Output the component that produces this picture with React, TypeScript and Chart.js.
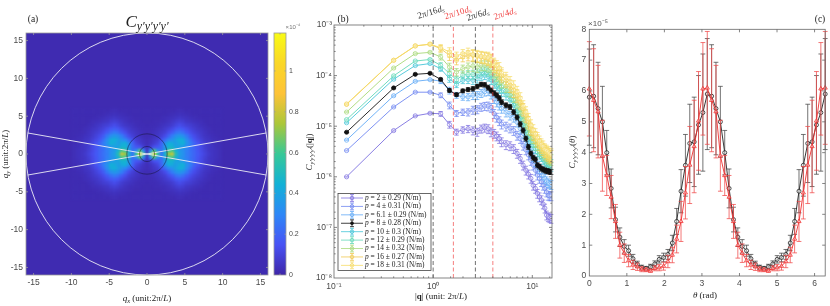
import React, { useEffect, useRef } from "react";
import { Chart, registerables } from "chart.js";

Chart.register(...registerables);

// ---------- panel (a) heat map, one quadrant (mirrored), values in 1e-4
const heatQx = [0, 0.5, 1, 1.5, 2, 2.5, 3, 3.5, 4, 4.5, 5, 5.5, 6, 6.5, 7, 7.5, 8, 8.5, 9, 9.5, 10];
const heatQy = [0, 0.5, 1, 1.5, 2, 2.5, 3, 3.5, 4, 4.5, 5, 5.5, 6];
const heatRow0 = [0.06, 0.62, 1.18, 0.6, 0.26, 0.46, 0.74, 0.8, 0.52, 0.38, 0.34, 0.27, 0.24, 0.2, 0.17, 0.13, 0.1, 0.07, 0.05, 0.04, 0.03];
const heatRow1 = [0.04, 0.3, 0.62, 0.34, 0.24, 0.4, 0.6, 0.62, 0.46, 0.36, 0.33, 0.28, 0.23, 0.2, 0.16, 0.12, 0.09, 0.06, 0.05, 0.04, 0.03];
const heatRow2 = [0.04, 0.08, 0.14, 0.16, 0.22, 0.36, 0.46, 0.46, 0.4, 0.38, 0.36, 0.3, 0.25, 0.2, 0.16, 0.12, 0.08, 0.06, 0.05, 0.035, 0.03];
const heatRow3 = [0.03, 0.05, 0.08, 0.11, 0.2, 0.34, 0.44, 0.42, 0.38, 0.42, 0.44, 0.34, 0.27, 0.2, 0.15, 0.11, 0.08, 0.06, 0.04, 0.03, 0.025];
const heatRow4 = [0.03, 0.04, 0.06, 0.08, 0.14, 0.22, 0.3, 0.34, 0.4, 0.44, 0.42, 0.32, 0.23, 0.16, 0.12, 0.09, 0.06, 0.05, 0.035, 0.03, 0.025];
const heatRow5 = [0.025, 0.03, 0.045, 0.06, 0.09, 0.13, 0.2, 0.28, 0.34, 0.36, 0.33, 0.26, 0.18, 0.13, 0.1, 0.07, 0.05, 0.04, 0.03, 0.025, 0.02];
const heatRow6 = [0.025, 0.03, 0.04, 0.05, 0.07, 0.09, 0.13, 0.18, 0.24, 0.26, 0.23, 0.18, 0.13, 0.1, 0.08, 0.06, 0.045, 0.03, 0.025, 0.02, 0.02];
const heatRow7 = [0.025, 0.025, 0.03, 0.04, 0.05, 0.07, 0.09, 0.12, 0.16, 0.18, 0.16, 0.13, 0.1, 0.08, 0.06, 0.05, 0.035, 0.03, 0.02, 0.02, 0.02];
const heatRow8 = [0.02, 0.025, 0.025, 0.03, 0.04, 0.05, 0.06, 0.08, 0.11, 0.13, 0.11, 0.09, 0.08, 0.06, 0.05, 0.035, 0.03, 0.02, 0.02, 0.02, 0.02];
const heatRow9 = [0.02, 0.02, 0.025, 0.025, 0.03, 0.035, 0.045, 0.06, 0.08, 0.09, 0.08, 0.06, 0.05, 0.04, 0.035, 0.03, 0.02, 0.02, 0.02, 0.02, 0.02];
const heatRow10 = [0.02, 0.02, 0.02, 0.02, 0.025, 0.03, 0.035, 0.04, 0.05, 0.06, 0.05, 0.045, 0.035, 0.03, 0.025, 0.02, 0.02, 0.02, 0.02, 0.02, 0.02];
const heatRow11 = [0.02, 0.02, 0.02, 0.02, 0.02, 0.02, 0.025, 0.03, 0.035, 0.04, 0.035, 0.03, 0.025, 0.02, 0.02, 0.02, 0.02, 0.02, 0.02, 0.02, 0.02];
const heatRow12 = [0.02, 0.02, 0.02, 0.02, 0.02, 0.02, 0.02, 0.02, 0.025, 0.03, 0.025, 0.02, 0.02, 0.02, 0.02, 0.02, 0.02, 0.02, 0.02, 0.02, 0.02];
const heatRows = [heatRow0, heatRow1, heatRow2, heatRow3, heatRow4, heatRow5, heatRow6, heatRow7, heatRow8, heatRow9, heatRow10, heatRow11, heatRow12];
const heatBackground = 0.018;
const heatMax = 1.186;
const ringRadii = [16, 2.667, 1];
const wedgeA = [{ x: -15.76, y: 2.78 }, { x: 15.76, y: -2.78 }];
const wedgeB = [{ x: -15.76, y: -2.78 }, { x: 15.76, y: 2.78 }];
const axisTicksA = [-15, -10, -5, 0, 5, 10, 15];
const colorbarTicks = [0, 0.2, 0.4, 0.6, 0.8, 1];

// parula stops
const parula = [
  [62, 38, 168], [72, 82, 244], [46, 135, 247], [18, 177, 214],
  [55, 200, 151], [171, 199, 57], [254, 195, 56], [250, 215, 40], [249, 251, 21],
];

// ---------- panel (b), values in units of 1e-6
const qValues = [0.134, 0.40, 0.66, 0.93, 1.19, 1.46, 1.72, 1.99, 2.25, 2.52, 2.78, 3.05, 3.31, 3.58, 3.84, 4.11, 4.37, 4.64, 4.90, 5.43, 5.96, 6.49, 7.02, 7.55, 8.08, 8.61, 9.14, 9.67, 10.2, 10.73, 11.26, 11.79, 12.32, 12.85, 13.38, 13.91, 14.44, 14.97, 15.5];
const p2 = [1.0, 8.2, 16, 18, 17.6, 10.8, 7.7, 8.5, 8.9, 8.2, 7.7, 8.9, 9.3, 8.9, 7.7, 7.2, 6.4, 5.7, 4.9, 4.3, 4.1, 3.6, 2.9, 2.3, 1.7, 1.35, 1.13, 0.93, 0.68, 0.59, 0.47, 0.4, 0.35, 0.29, 0.24, 0.175, 0.162, 0.155, 0.15];
const p4 = [3.3, 24, 47, 47, 41, 26, 18, 19, 19, 21, 21.5, 24, 25, 25, 23.5, 17.8, 15, 12.8, 11, 10, 9.2, 8.2, 6.6, 5.7, 4.2, 3.4, 2.7, 2.1, 1.7, 1.35, 1.08, 0.93, 0.8, 0.68, 0.59, 0.5, 0.43, 0.42, 0.42];
const p6 = [5.3, 40, 77, 83, 78, 51, 41, 38, 38, 41, 41, 45, 48, 50, 43, 35, 30, 26, 22.5, 19, 16.5, 15, 12, 9, 7.2, 5.3, 3.9, 3.1, 2.5, 2, 1.7, 1.46, 1.25, 1.08, 0.93, 0.83, 0.76, 0.72, 0.7];
const p8 = [7.6, 57, 106, 111, 84, 51, 42, 50, 53, 55, 61, 67, 66, 58, 51, 45, 41, 36, 30, 26, 24, 19, 15, 11, 8.3, 5.7, 3.9, 2.9, 2.4, 2.2, 1.7, 1.6, 1.46, 1.4, 1.35, 1.3, 1.3, 1.25, 1.25];
const p10 = [11.7, 85, 158, 173, 137, 87, 67, 81, 83, 81, 87, 97, 102, 97, 83, 70, 62, 55, 48, 41, 33, 26, 19, 14.2, 10.5, 7.7, 6.2, 4.9, 4.2, 3.6, 3.1, 2.8, 2.5, 2.2, 2.0, 1.8, 1.7, 1.65, 1.6];
const p12 = [13.5, 99, 194, 208, 160, 110, 83, 102, 106, 106, 113, 124, 131, 124, 106, 87, 77, 70, 60, 50, 41, 33, 24, 18, 13.1, 9.7, 7.2, 5.7, 4.9, 4.2, 3.6, 3.2, 2.9, 2.6, 2.3, 2.1, 2, 1.9, 1.8];
const p14 = [19, 141, 272, 288, 234, 148, 118, 137, 148, 155, 148, 160, 160, 155, 137, 118, 102, 87, 75, 61, 50, 39, 30, 22, 16.5, 12.2, 9, 7.2, 6, 5.1, 4.4, 3.9, 3.5, 3.1, 2.8, 2.6, 2.4, 2.3, 2.2];
const p16 = [27, 201, 386, 416, 341, 252, 201, 234, 252, 252, 241, 234, 227, 217, 201, 160, 137, 118, 102, 81, 64, 51, 41, 30, 22, 16.5, 12.2, 9, 7.2, 6.2, 5.3, 4.5, 4, 3.6, 3.3, 3, 2.8, 2.6, 2.6];
const p18 = [27.5, 201, 386, 420, 355, 293, 245, 272, 285, 262, 252, 241, 234, 227, 208, 173, 155, 142, 112, 91, 75, 62, 48, 36, 25, 19, 14, 10.5, 8.4, 7, 5.9, 5, 4.4, 4, 3.5, 3.3, 3.1, 2.9, 2.8];
const errFraction = [0.02, 0.03, 0.03, 0.04, 0.12, 0.17, 0.15, 0.16, 0.18, 0.2, 0.2, 0.2, 0.2, 0.22, 0.22, 0.22, 0.22, 0.22, 0.22, 0.22, 0.22, 0.22, 0.22, 0.22, 0.22, 0.22, 0.22, 0.22, 0.22, 0.22, 0.22, 0.22, 0.22, 0.22, 0.22, 0.22, 0.22, 0.22, 0.22];
const seriesB = [p2, p4, p6, p8, p10, p12, p14, p16, p18];
const errScale = [0.9, 0.9, 0.9, 0.5, 0.9, 1, 1.1, 1.25, 1.25];
const seriesLabels = ["p = 2 ± 0.29 (N/m)", "p = 4 ± 0.31 (N/m)", "p = 6.1 ± 0.29 (N/m)", "p = 8 ± 0.28 (N/m)", "p = 10 ± 0.3 (N/m)", "p = 12 ± 0.29 (N/m)", "p = 14 ± 0.32 (N/m)", "p = 16 ± 0.27 (N/m)", "p = 18 ± 0.31 (N/m)"];
const seriesColors = ["#7d70e0", "#6f86f0", "#62aaf6", "#111111", "#45c5d8", "#62d8b8", "#a8d878", "#f0c850", "#f6dc68"];
const dashQ = [1, 1.6, 2.667, 4];
const dashColors = ["#333333", "#f04848", "#333333", "#f04848"];
const dashLabels = ["16", "10", "6", "4"];

// ---------- panel (c), values in units of 1e-5
const thetaValues = [0, 0.116, 0.233, 0.349, 0.465, 0.582, 0.698, 0.814, 0.931, 1.047, 1.164, 1.28, 1.396, 1.513, 1.629, 1.745, 1.862, 1.978, 2.094, 2.211, 2.327, 2.443, 2.56, 2.676, 2.793, 2.909, 3.025, 3.142, 3.258, 3.374, 3.491, 3.607, 3.723, 3.84, 3.956, 4.072, 4.189, 4.305, 4.421, 4.538, 4.654, 4.77, 4.887, 5.003, 5.119, 5.236, 5.352, 5.469, 5.585, 5.701, 5.818, 5.934, 6.05, 6.167, 6.283];
const blackVals = [5.8, 5.83, 5.43, 5.0, 4.0, 2.84, 1.83, 1.26, 0.96, 0.82, 0.56, 0.38, 0.28, 0.25, 0.3, 0.39, 0.54, 0.6, 0.7, 1.07, 1.77, 2.75, 3.59, 4.3, 4.35, 4.9, 5.3, 5.9, 5.83, 5.43, 5.0, 4.0, 2.84, 1.83, 1.26, 0.96, 0.82, 0.56, 0.38, 0.28, 0.25, 0.3, 0.39, 0.54, 0.6, 0.7, 1.07, 1.77, 2.75, 3.59, 4.3, 4.35, 4.9, 5.3, 5.9];
const blackErr = [1.56, 1.67, 1.5, 1.15, 0.72, 0.63, 0.4, 0.3, 0.22, 0.18, 0.14, 0.1, 0.07, 0.06, 0.08, 0.1, 0.12, 0.14, 0.16, 0.25, 0.42, 0.7, 1.0, 1.27, 1.45, 1.6, 1.9, 1.8, 1.67, 1.5, 1.15, 0.72, 0.63, 0.4, 0.3, 0.22, 0.18, 0.14, 0.1, 0.07, 0.06, 0.08, 0.1, 0.12, 0.14, 0.16, 0.25, 0.42, 0.7, 1.0, 1.27, 1.45, 1.6, 1.9, 1.8];
const redVals = [6.07, 5.7, 5.33, 3.9, 3.26, 2.56, 1.77, 1.0, 0.74, 0.5, 0.36, 0.3, 0.22, 0.2, 0.17, 0.25, 0.27, 0.32, 0.47, 0.68, 1.2, 1.77, 2.7, 3.6, 4.2, 5.03, 6.07, 6.1, 5.7, 5.33, 3.9, 3.26, 2.56, 1.77, 1.0, 0.74, 0.5, 0.36, 0.3, 0.22, 0.2, 0.17, 0.25, 0.27, 0.32, 0.47, 0.68, 1.2, 1.77, 2.7, 3.6, 4.2, 5.03, 6.07, 6.1];
const redErr = [1.53, 1.67, 1.5, 1.15, 0.65, 0.7, 0.55, 0.42, 0.3, 0.2, 0.15, 0.12, 0.08, 0.06, 0.05, 0.08, 0.1, 0.13, 0.2, 0.25, 0.45, 0.65, 0.85, 1.25, 1.5, 1.6, 1.5, 1.83, 1.67, 1.5, 1.15, 0.65, 0.7, 0.55, 0.42, 0.3, 0.2, 0.15, 0.12, 0.08, 0.06, 0.05, 0.08, 0.1, 0.13, 0.2, 0.25, 0.45, 0.65, 0.85, 1.25, 1.5, 1.6, 1.5, 1.83];
const axisTicksCx = [0, 1, 2, 3, 4, 5, 6];
const axisTicksCy = [0, 1, 2, 3, 4, 5, 6, 7, 8];

// ---------- helpers
const SERIF = '"Liberation Serif"';
const SANS = '"Liberation Sans"';
const TICK = "#4a4a4a";

function parulaAt(v: number) {
  const t = Math.max(0, Math.min(1, v / heatMax)) * (parula.length - 1);
  const i = Math.min(parula.length - 2, Math.floor(t));
  const f = t - i;
  const c = parula[i].map((a, k) => Math.round(a + (parula[i + 1][k] - a) * f));
  return `rgb(${c[0]},${c[1]},${c[2]})`;
}

type Run = { t: string; i?: boolean; b?: boolean; s?: number; dy?: number; f?: string };
type Txt = { x: number; y: number; runs: Run[]; rot?: number; color?: string; align?: string };

function drawRich(ctx: any, tx: Txt) {
  ctx.save();
  ctx.translate(tx.x, tx.y);
  if (tx.rot) ctx.rotate(tx.rot);
  ctx.textBaseline = "middle";
  ctx.textAlign = "left";
  ctx.fillStyle = tx.color || "#222";
  const fontOf = (r: Run) => `${r.i ? "italic " : ""}${r.b ? "bold " : ""}${r.s || 8}px ${r.f || SERIF}`;
  let w = 0;
  for (const r of tx.runs) {
    ctx.font = fontOf(r);
    w += ctx.measureText(r.t).width;
  }
  let x = tx.align === "left" ? 0 : -w / 2;
  for (const r of tx.runs) {
    ctx.font = fontOf(r);
    ctx.fillText(r.t, x, r.dy || 0);
    x += ctx.measureText(r.t).width;
  }
  ctx.restore();
}

const textPlugin = (canvasLeft: number, list: Txt[]) => ({
  id: "richTexts",
  afterDraw(chart: any) {
    const ctx = chart.ctx;
    ctx.save();
    ctx.translate(-canvasLeft, 0);
    list.forEach((t) => drawRich(ctx, t));
    ctx.restore();
  },
});

const isPow10 = (v: number) => Math.abs(Math.log10(v) - Math.round(Math.log10(v))) < 1e-6;

const framePlugin = (color: string, majorLen: number, logAxes: boolean) => ({
  id: "frame",
  afterDatasetsDraw(chart: any) {
    const { ctx, chartArea: a, scales } = chart;
    ctx.save();
    ctx.strokeStyle = color;
    ctx.lineWidth = 0.8;
    ctx.strokeRect(a.left, a.top, a.right - a.left, a.bottom - a.top);
    ctx.beginPath();
    for (const t of scales.x.ticks) {
      const p = scales.x.getPixelForValue(t.value);
      if (p <= a.left + 0.5 || p >= a.right - 0.5) continue;
      const l = logAxes && !isPow10(t.value) ? majorLen * 0.55 : majorLen;
      ctx.moveTo(p, a.bottom); ctx.lineTo(p, a.bottom - l);
      ctx.moveTo(p, a.top); ctx.lineTo(p, a.top + l);
    }
    for (const t of scales.y.ticks) {
      const p = scales.y.getPixelForValue(t.value);
      if (p <= a.top + 0.5 || p >= a.bottom - 0.5) continue;
      const l = logAxes && !isPow10(t.value) ? majorLen * 0.55 : majorLen;
      ctx.moveTo(a.left, p); ctx.lineTo(a.left + l, p);
      ctx.moveTo(a.right, p); ctx.lineTo(a.right - l, p);
    }
    ctx.stroke();
    ctx.restore();
  },
});

const errorPlugin = (cap: number) => ({
  id: "errorBars",
  beforeDatasetDraw(chart: any, args: any) {
    const ds = chart.data.datasets[args.index];
    if (!ds.errs) return;
    const { ctx, scales } = chart;
    const pts = args.meta.data;
    ctx.save();
    ctx.strokeStyle = ds.errColor || ds.borderColor;
    ctx.lineWidth = 0.75;
    ctx.beginPath();
    ds.data.forEach((d: any, i: number) => {
      const e = ds.errs[i];
      if (!e) return;
      const x = pts[i].x;
      const y1 = scales.y.getPixelForValue(d.y + e);
      const y2 = scales.y.getPixelForValue(d.y - e);
      ctx.moveTo(x, y1); ctx.lineTo(x, y2);
      ctx.moveTo(x - cap, y1); ctx.lineTo(x + cap, y1);
      ctx.moveTo(x - cap, y2); ctx.lineTo(x + cap, y2);
    });
    ctx.stroke();
    ctx.restore();
  },
});

const ringPlugin = {
  id: "rings",
  afterDatasetsDraw(chart: any) {
    const { ctx, scales } = chart;
    const cx = scales.x.getPixelForValue(0);
    const cy = scales.y.getPixelForValue(0);
    ringRadii.forEach((r, i) => {
      const rp = scales.x.getPixelForValue(r) - cx;
      ctx.save();
      ctx.strokeStyle = i === 0 ? "rgba(235,235,245,0.9)" : "rgba(20,20,50,0.85)";
      ctx.lineWidth = i === 0 ? 1 : 0.6;
      ctx.beginPath();
      ctx.arc(cx, cy, rp, 0, Math.PI * 2);
      ctx.stroke();
      ctx.restore();
    });
  },
};

const legendPlugin = {
  id: "panelLegend",
  afterDraw(chart: any) {
    const ctx = chart.ctx;
    const L = 338 - 303, T = 193.5, W = 93, H = 77;
    ctx.save();
    ctx.fillStyle = "#fff";
    ctx.fillRect(L, T, W, H);
    ctx.strokeStyle = "#444";
    ctx.lineWidth = 0.8;
    ctx.strokeRect(L, T, W, H);
    seriesLabels.forEach((label, i) => {
      const y = T + 4.5 + i * 8.42;
      const c = seriesColors[i];
      ctx.strokeStyle = c;
      ctx.lineWidth = 0.8;
      ctx.beginPath();
      ctx.moveTo(L + 3, y); ctx.lineTo(L + 25, y);
      ctx.moveTo(L + 14, y - 3.4); ctx.lineTo(L + 14, y + 3.4);
      ctx.moveTo(L + 12, y - 3.4); ctx.lineTo(L + 16, y - 3.4);
      ctx.moveTo(L + 12, y + 3.4); ctx.lineTo(L + 16, y + 3.4);
      ctx.stroke();
      ctx.beginPath();
      ctx.arc(L + 14, y, 1.8, 0, Math.PI * 2);
      if (i === 3) { ctx.fillStyle = c; ctx.fill(); } else { ctx.stroke(); }
      drawRich(ctx, { x: L + 27, y, align: "left", color: "#222", runs: [{ t: "p", i: true, s: 7.4 }, { t: label.slice(1), s: 7.4 }] });
    });
    ctx.restore();
  },
};

const fixedY = (w: number) => (s: any) => { s.width = w; };
const fixedX = (h: number) => (s: any) => { s.height = h; };
const setTicks = (vals: number[]) => (s: any) => { s.ticks = vals.map((v) => ({ value: v })); };
const plainLabel = (v: any) => String(v);
const tickStyle = (padding: number) => ({ font: { family: SANS, size: 8.5 }, color: TICK, padding, autoSkip: false, maxRotation: 0, callback: plainLabel });
const noGrid = { display: false, drawTicks: false };
const noBorder = { display: false };

const superscripts: Record<string, string> = { "-": "⁻", "1": "¹", "2": "²", "3": "³", "4": "⁴", "5": "⁵", "6": "⁶", "7": "⁷", "8": "⁸", "0": "⁰" };
const powLabel = (v: any) => {
  if (!isPow10(Number(v))) return "";
  const e = String(Math.round(Math.log10(Number(v))));
  return "10" + e.split("").map((c) => superscripts[c]).join("");
};

const unitRuns = (sub: string): Run[] => [
  { t: "q", i: true, s: 9 },
  { t: sub, i: true, s: 6.5, dy: 2 },
  { t: " (unit:2π/", s: 9 },
  { t: "L", i: true, s: 9 },
  { t: ")", s: 9 },
];
const cRuns = (suffix: Run[]): Run[] => [
  { t: "C", i: true, s: 9 },
  { t: "y′y′y′y′", i: true, s: 6.2, dy: 2 },
  ...suffix,
];

export default function App() {
  const heatRef = useRef<HTMLCanvasElement>(null);
  const overlayRef = useRef<HTMLCanvasElement>(null);
  const barRef = useRef<HTMLCanvasElement>(null);
  const bRef = useRef<HTMLCanvasElement>(null);
  const cRef = useRef<HTMLCanvasElement>(null);

  useEffect(() => {
    const charts: Chart[] = [];

    // heat map cells
    const cells: any[] = [];
    const cellColors: string[] = [];
    heatQy.forEach((qy, r) => {
      heatQx.forEach((qx, c) => {
        const v = heatRows[r][c];
        const xs = qx === 0 ? [0] : [qx, -qx];
        const ys = qy === 0 ? [0] : [qy, -qy];
        xs.forEach((x) => ys.forEach((y) => {
          cells.push({ x, y });
          cellColors.push(parulaAt(v));
        }));
      });
    });
    charts.push(new Chart(heatRef.current as any, {
      type: "scatter",
      data: { datasets: [{ data: cells, pointStyle: "rect", pointRadius: 2.95, pointBorderWidth: 0, pointBackgroundColor: cellColors }] as any },
      options: {
        responsive: false, animation: false,
        plugins: { legend: { display: false }, tooltip: { enabled: false } },
        scales: { x: { display: false, min: -16, max: 16 }, y: { display: false, min: -16, max: 16 } },
      },
    } as any));

    // overlay with axes, rings and wedge
    charts.push(new Chart(overlayRef.current as any, {
      type: "scatter",
      data: {
        datasets: [wedgeA, wedgeB].map((w) => ({ data: w, showLine: true, pointRadius: 0, borderColor: "rgba(235,235,245,0.9)", borderWidth: 1 })),
      },
      options: {
        responsive: false, animation: false,
        layout: { padding: { top: 33, right: 4 } },
        plugins: { legend: { display: false }, tooltip: { enabled: false } },
        scales: {
          x: { min: -16, max: 16, afterBuildTicks: setTicks(axisTicksA), afterFit: fixedX(31), grid: noGrid, border: noBorder, ticks: tickStyle(3) },
          y: { min: -16, max: 16, afterBuildTicks: setTicks(axisTicksA), afterFit: fixedY(26), grid: noGrid, border: noBorder, ticks: tickStyle(3) },
        },
      },
      plugins: [ringPlugin, framePlugin("#9a9a9a", 2, false), textPlugin(0, [
        { x: 33, y: 19, runs: [{ t: "(a)", s: 9.5 }] },
        { x: 147, y: 23, runs: [{ t: "C", i: true, s: 17 }, { t: "y′y′y′y′", i: true, s: 12, dy: 3.5 }] },
        { x: 147, y: 299, runs: unitRuns("x") },
        { x: 6, y: 154, rot: -Math.PI / 2, runs: unitRuns("y") },
      ])],
    } as any));

    // colour bar
    charts.push(new Chart(barRef.current as any, {
      type: "bar",
      data: {
        labels: ["C"],
        datasets: [{
          data: [heatMax], barPercentage: 1, categoryPercentage: 1, borderWidth: 0,
          backgroundColor: (ctx: any) => {
            const a = ctx.chart.chartArea;
            if (!a) return parulaAt(0);
            const g = ctx.chart.ctx.createLinearGradient(0, a.bottom, 0, a.top);
            parula.forEach((c, i) => g.addColorStop(i / (parula.length - 1), `rgb(${c[0]},${c[1]},${c[2]})`));
            return g;
          },
        }],
      },
      options: {
        responsive: false, animation: false,
        layout: { padding: { left: 4, top: 33, bottom: 31 } },
        plugins: { legend: { display: false }, tooltip: { enabled: false } },
        scales: {
          x: { display: false },
          y: { position: "right", min: 0, max: heatMax, afterBuildTicks: setTicks(colorbarTicks), afterFit: fixedY(19), grid: noGrid, border: noBorder, ticks: { ...tickStyle(3), font: { family: SANS, size: 7 } } },
        },
      },
      plugins: [framePlugin("#9a9a9a", 1.5, false), textPlugin(270, [
        { x: 293, y: 27, runs: [{ t: "×10", s: 6, f: SANS }, { t: "⁻⁴", s: 6, f: SANS, dy: -1 }], color: "#777" },
      ])],
    } as any));

    // panel (b)
    const bDatasets: any[] = seriesB.map((vals, i) => ({
      label: seriesLabels[i],
      data: vals.map((v, k) => ({ x: qValues[k], y: v * 1e-6 })),
      errs: vals.map((v, k) => v * 1e-6 * errFraction[k] * errScale[i]),
      errColor: seriesColors[i],
      showLine: true,
      borderColor: seriesColors[i],
      borderWidth: 0.9,
      pointRadius: 2.1,
      pointBorderWidth: 0.7,
      pointBorderColor: seriesColors[i],
      pointBackgroundColor: i === 3 ? seriesColors[i] : "rgba(255,255,255,0.35)",
      order: i === 3 ? -30 : -i,
    }));
    dashQ.forEach((q, i) => {
      bDatasets.push({
        label: dashLabels[i],
        data: [{ x: q, y: 1e-8 }, { x: q, y: 1e-3 }],
        showLine: true, pointRadius: 0, borderColor: dashColors[i], borderWidth: 0.7, borderDash: [4, 2.5], order: -40,
      });
    });
    const dashText = (x: number, y: number, n: string, color: string): Txt => ({
      x, y, rot: -0.3, color,
      runs: [{ t: "2π/" + n, s: 9 }, { t: "d", i: true, s: 9 }, { t: "s", i: true, s: 6.5, dy: 2 }],
    });
    charts.push(new Chart(bRef.current as any, {
      type: "scatter",
      data: { datasets: bDatasets },
      options: {
        responsive: false, animation: false,
        layout: { padding: { top: 25, right: 8 } },
        plugins: { legend: { display: false }, tooltip: { enabled: false } },
        scales: {
          x: { type: "logarithmic", min: 0.1, max: 15.8, afterFit: fixedX(28), grid: noGrid, border: noBorder, ticks: { ...tickStyle(4), callback: powLabel } },
          y: { type: "logarithmic", min: 1e-8, max: 1e-3, afterFit: fixedY(31), grid: noGrid, border: noBorder, ticks: { ...tickStyle(2), callback: powLabel } },
        },
      },
      plugins: [errorPlugin(2.2), framePlugin("#666666", 3, true), legendPlugin, textPlugin(303, [
        { x: 343, y: 19, runs: [{ t: "(b)", s: 9.5 }] },
        dashText(431, 12.5, dashLabels[0], dashColors[0]),
        dashText(458, 13, dashLabels[1], dashColors[1]),
        dashText(478, 15, dashLabels[2], dashColors[2]),
        dashText(505, 14, dashLabels[3], dashColors[3]),
        { x: 441, y: 297, runs: [{ t: "|", s: 9 }, { t: "q", s: 9, b: true }, { t: "| (unit: 2π/", s: 9 }, { t: "L", i: true, s: 9 }, { t: ")", s: 9 }] },
        { x: 310, y: 152, rot: -Math.PI / 2, runs: cRuns([{ t: "(|", s: 9 }, { t: "q", s: 9, b: true }, { t: "|)", s: 9 }]) },
      ])],
    } as any));

    // panel (c)
    const toPts = (vals: number[]) => vals.map((v, k) => ({ x: thetaValues[k], y: v }));
    charts.push(new Chart(cRef.current as any, {
      type: "scatter",
      data: {
        datasets: [
          { data: toPts(blackVals), errs: blackErr, errColor: "#444444", showLine: true, borderColor: "#222222", borderWidth: 0.9, pointStyle: "circle", pointRadius: 2, pointBorderWidth: 0.8, pointBorderColor: "#222222", pointBackgroundColor: "rgba(255,255,255,0.5)", order: 0, clip: false },
          { data: toPts(redVals), errs: redErr, errColor: "#f04848", showLine: true, borderColor: "#f03030", borderWidth: 0.9, pointStyle: "triangle", pointRadius: 2.4, pointBorderWidth: 0.8, pointBorderColor: "#f03030", pointBackgroundColor: "rgba(255,255,255,0.4)", order: -1, clip: false },
        ],
      },
      options: {
        responsive: false, animation: false,
        layout: { padding: { top: 29.3, right: 0.5 } },
        plugins: { legend: { display: false }, tooltip: { enabled: false } },
        scales: {
          x: { min: 0, max: 6.283, afterBuildTicks: setTicks(axisTicksCx), afterFit: fixedX(30), grid: noGrid, border: noBorder, ticks: tickStyle(3) },
          y: { min: 0, max: 8, afterBuildTicks: setTicks(axisTicksCy), afterFit: fixedY(29.3), grid: noGrid, border: noBorder, ticks: tickStyle(3) },
        },
      },
      plugins: [errorPlugin(2.4), framePlugin("#666666", 3, false), textPlugin(560, [
        { x: 820, y: 19, runs: [{ t: "(c)", s: 9.5 }] },
        { x: 598, y: 24, runs: [{ t: "×10", s: 8, f: SANS }, { t: "⁻⁵", s: 8, f: SANS, dy: -1 }], color: "#555" },
        { x: 705, y: 296, runs: [{ t: "θ", i: true, s: 9 }, { t: " (rad)", s: 9 }] },
        { x: 573, y: 152, rot: -Math.PI / 2, runs: cRuns([{ t: "(", s: 9 }, { t: "θ", i: true, s: 9 }, { t: ")", s: 9 }]) },
      ])],
    } as any));

    return () => charts.forEach((c) => c.destroy());
  }, []);

  const abs = (left: number, top: number): React.CSSProperties => ({ position: "absolute", left, top, display: "block" });

  return (
    <div style={{ position: "absolute", left: 0, top: 0, width: 830, height: 306, background: "#fff", overflow: "hidden", filter: "blur(0.35px)" }}>
      <div style={{ position: "absolute", left: 26, top: 33, width: 242, height: 242, overflow: "hidden", background: parulaAt(heatBackground) }}>
        <canvas ref={heatRef} width={242} height={242} style={{ display: "block", filter: "blur(1.1px)" }} />
      </div>
      <canvas ref={overlayRef} width={272} height={306} style={abs(0, 0)} />
      <canvas ref={barRef} width={35} height={306} style={abs(270, 0)} />
      <canvas ref={bRef} width={257} height={306} style={abs(303, 0)} />
      <canvas ref={cRef} width={270} height={306} style={abs(560, 0)} />
    </div>
  );
}
